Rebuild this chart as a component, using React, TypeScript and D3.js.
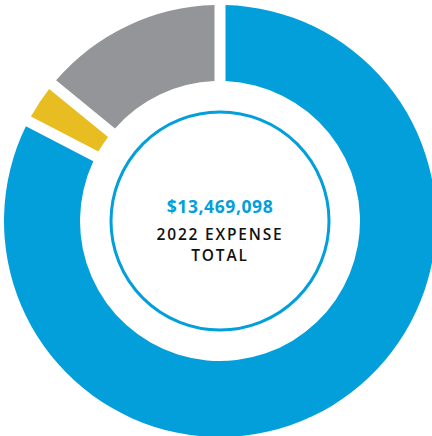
import React from "react";
import * as d3 from "d3";

const categories = ["Category A", "Category B", "Category C"];
const values = [11295000, 336727, 1837371];
const colors = ["#039fdb", "#e8bd22", "#939598"];
const totalLabel = "$13,469,098";
const titleLines = ["2022 EXPENSE", "TOTAL"];

const W = 432;
const H = 436;
const cx = 220;
const cy = 221;
const outerR = 216;
const innerR = 140;

export default function App() {
  const pie = d3
    .pie<number>()
    .sort(null)
    .value((d) => d)
    .padAngle(11 / outerR);
  const arcs = pie(values);
  const arc = d3
    .arc<d3.PieArcDatum<number>>()
    .innerRadius(innerR)
    .outerRadius(outerR)
    .padRadius(outerR);

  return (
    <div style={{ position: "absolute", left: 0, top: 0 }}>
      <svg width={W} height={H} style={{ display: "block" }}>
        <rect width={W} height={H} fill="#fff" />
        <g transform={`translate(${cx},${cy})`}>
          {arcs.map((a, i) => (
            <path key={categories[i]} d={arc(a) || ""} fill={colors[i]} />
          ))}
          <circle r={109} fill="none" stroke={colors[0]} strokeWidth={3} />
          <text
            x={0}
            y={-8}
            textAnchor="middle"
            fill={colors[0]}
            fontFamily="'Open Sans', sans-serif"
            fontWeight={700}
            fontSize={17.5}
            letterSpacing={0.6}
          >
            {totalLabel}
          </text>
          {titleLines.map((t, i) => (
            <text
              key={t}
              x={0}
              y={19 + i * 21}
              textAnchor="middle"
              fill="#111"
              fontFamily="'Open Sans', sans-serif"
              fontWeight={600}
              fontSize={15.5}
              letterSpacing={1.8}
            >
              {t}
            </text>
          ))}
        </g>
      </svg>
    </div>
  );
}
